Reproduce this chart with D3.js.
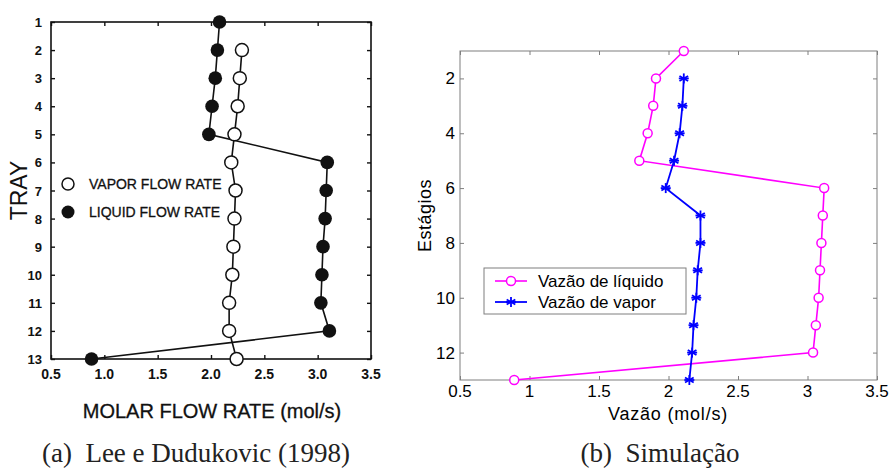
<!DOCTYPE html>
<html>
<head>
<meta charset="utf-8">
<script src="https://cdn.jsdelivr.net/npm/d3@7"></script>
<style>
  body { margin: 0; background: #fff; }
  svg { display: block; }
  text { font-family: "Liberation Sans", Arial, sans-serif; }
  text.serif { font-family: "Liberation Serif", "Times New Roman", serif; }
</style>
</head>
<body>
<div id="chart"></div>
<script>
// data
// (a) Lee e Dudukovic (1998)
var trays = [1, 2, 3, 4, 5, 6, 7, 8, 9, 10, 11, 12, 13];
var leeLiquid = [2.08, 2.06, 2.04, 2.01, 1.98, 3.09, 3.08, 3.07, 3.05, 3.04, 3.03, 3.11, 0.88];
var leeVaporTrays = [2, 3, 4, 5, 6, 7, 8, 9, 10, 11, 12, 13];
var leeVapor = [2.29, 2.27, 2.25, 2.22, 2.19, 2.23, 2.22, 2.21, 2.2, 2.17, 2.17, 2.24];

// (b) Simulação
var stages = [1, 2, 3, 4, 5, 6, 7, 8, 9, 10, 11, 12, 13];
var simLiquid = [2.11, 1.91, 1.89, 1.85, 1.79, 3.12, 3.11, 3.10, 3.09, 3.08, 3.06, 3.04, 0.89];
var simVaporStages = [2, 3, 4, 5, 6, 7, 8, 9, 10, 11, 12, 13];
var simVapor = [2.11, 2.10, 2.08, 2.04, 1.98, 2.23, 2.23, 2.21, 2.20, 2.18, 2.17, 2.15];

var xTicks = [0.5, 1, 1.5, 2, 2.5, 3, 3.5];
var leeXLabels = ["0.5", "1.0", "1.5", "2.0", "2.5", "3.0", "3.5"];
var simYTicks = [2, 4, 6, 8, 10, 12];

var svg = d3.select("#chart").append("svg")
  .attr("width", 892)
  .attr("height", 469);

// ---------- panel (a) ----------
var a = { left: 51, right: 371, top: 22, bottom: 359 };
var xa = d3.scaleLinear().domain([0.5, 3.5]).range([a.left, a.right]);
var ya = d3.scaleLinear().domain([1, 13]).range([a.top, a.bottom]);

var ga = svg.append("g");

ga.append("rect")
  .attr("x", a.left).attr("y", a.top)
  .attr("width", a.right - a.left).attr("height", a.bottom - a.top)
  .attr("fill", "none").attr("stroke", "#111").attr("stroke-width", 1.6);

// inward ticks
ga.append("g").attr("transform", `translate(0,${a.bottom})`)
  .call(d3.axisTop(xa).tickValues(xTicks).tickSize(4).tickFormat(""))
  .call(g => g.select(".domain").remove());
ga.append("g").attr("transform", `translate(0,${a.top})`)
  .call(d3.axisBottom(xa).tickValues(xTicks).tickSize(4).tickFormat(""))
  .call(g => g.select(".domain").remove());
ga.append("g").attr("transform", `translate(${a.left},0)`)
  .call(d3.axisRight(ya).tickValues(trays).tickSize(4).tickFormat(""))
  .call(g => g.select(".domain").remove());
ga.append("g").attr("transform", `translate(${a.right},0)`)
  .call(d3.axisLeft(ya).tickValues(trays).tickSize(4).tickFormat(""))
  .call(g => g.select(".domain").remove());
ga.selectAll(".tick line").attr("stroke", "#111").attr("stroke-width", 1.4);

// tick labels
ga.selectAll(".xlab").data(xTicks).enter().append("text")
  .attr("x", d => xa(d))
  .attr("y", a.bottom + 20)
  .attr("text-anchor", "middle")
  .attr("font-weight", "bold")
  .attr("font-size", 14)
  .attr("fill", "#111")
  .text((d, i) => leeXLabels[i]);

ga.selectAll(".ylab").data(trays).enter().append("text")
  .attr("x", a.left - 9)
  .attr("y", d => ya(d) + 5)
  .attr("text-anchor", "end")
  .attr("font-weight", "bold")
  .attr("font-size", 13)
  .attr("fill", "#111")
  .text(d => d);

ga.append("text")
  .attr("transform", `translate(27,${(a.top + a.bottom) / 2}) rotate(-90)`)
  .attr("text-anchor", "middle")
  .attr("font-size", 23)
  .attr("fill", "#111")
  .text("TRAY");

ga.append("text")
  .attr("x", 212).attr("y", 418)
  .attr("text-anchor", "middle")
  .attr("font-size", 20)
  .attr("fill", "#111")
  .attr("stroke", "#111").attr("stroke-width", 0.3)
  .text("MOLAR FLOW RATE (mol/s)");

// lines
var lineA = d3.line().x(d => xa(d[0])).y(d => ya(d[1]));
var leeLiqPts = leeLiquid.map((v, i) => [v, trays[i]]);
var leeVapPts = leeVapor.map((v, i) => [v, leeVaporTrays[i]]);

ga.append("path").datum(leeVapPts).attr("d", lineA)
  .attr("fill", "none").attr("stroke", "#111").attr("stroke-width", 1.6);
ga.append("path").datum(leeLiqPts).attr("d", lineA)
  .attr("fill", "none").attr("stroke", "#111").attr("stroke-width", 1.6);

ga.selectAll(".vap").data(leeVapPts).enter().append("circle")
  .attr("cx", d => xa(d[0])).attr("cy", d => ya(d[1])).attr("r", 6.5)
  .attr("fill", "#fff").attr("stroke", "#111").attr("stroke-width", 1.5);
ga.selectAll(".liq").data(leeLiqPts).enter().append("circle")
  .attr("cx", d => xa(d[0])).attr("cy", d => ya(d[1])).attr("r", 6.8)
  .attr("fill", "#111");

// legend (a)
ga.append("circle").attr("cx", 68).attr("cy", 184).attr("r", 6)
  .attr("fill", "#fff").attr("stroke", "#111").attr("stroke-width", 1.5);
ga.append("circle").attr("cx", 68).attr("cy", 212).attr("r", 6.5)
  .attr("fill", "#111");
ga.append("text").attr("x", 89).attr("y", 189)
  .attr("font-size", 14).attr("fill", "#111")
  .attr("stroke", "#111").attr("stroke-width", 0.3)
  .text("VAPOR FLOW RATE");
ga.append("text").attr("x", 89).attr("y", 217)
  .attr("font-size", 14).attr("fill", "#111")
  .attr("stroke", "#111").attr("stroke-width", 0.3)
  .text("LIQUID FLOW RATE");

// ---------- panel (b) ----------
var b = { left: 460, right: 877, top: 51, bottom: 380 };
var xb = d3.scaleLinear().domain([0.5, 3.5]).range([b.left, b.right]);
var yb = d3.scaleLinear().domain([1, 13]).range([b.top, b.bottom]);

var gb = svg.append("g");

gb.append("rect")
  .attr("x", b.left).attr("y", b.top)
  .attr("width", b.right - b.left).attr("height", b.bottom - b.top)
  .attr("fill", "none").attr("stroke", "#7f7f7f").attr("stroke-width", 1);

gb.append("g").attr("transform", `translate(0,${b.bottom})`)
  .call(d3.axisTop(xb).tickValues(xTicks).tickSize(4).tickFormat(""))
  .call(g => g.select(".domain").remove());
gb.append("g").attr("transform", `translate(0,${b.top})`)
  .call(d3.axisBottom(xb).tickValues(xTicks).tickSize(4).tickFormat(""))
  .call(g => g.select(".domain").remove());
gb.append("g").attr("transform", `translate(${b.left},0)`)
  .call(d3.axisRight(yb).tickValues(simYTicks).tickSize(4).tickFormat(""))
  .call(g => g.select(".domain").remove());
gb.append("g").attr("transform", `translate(${b.right},0)`)
  .call(d3.axisLeft(yb).tickValues(simYTicks).tickSize(4).tickFormat(""))
  .call(g => g.select(".domain").remove());
gb.selectAll(".tick line").attr("stroke", "#7f7f7f");

gb.selectAll(".xlab").data(xTicks).enter().append("text")
  .attr("x", d => xb(d))
  .attr("y", b.bottom + 17)
  .attr("text-anchor", "middle")
  .attr("font-size", 17)
  .attr("fill", "#000")
  .text(d => d);

gb.selectAll(".ylab").data(simYTicks).enter().append("text")
  .attr("x", b.left - 5)
  .attr("y", d => yb(d) + 6)
  .attr("text-anchor", "end")
  .attr("font-size", 17)
  .attr("fill", "#000")
  .text(d => d);

gb.append("text")
  .attr("x", 668).attr("y", 420)
  .attr("text-anchor", "middle")
  .attr("font-size", 18)
  .attr("letter-spacing", 0.8)
  .attr("fill", "#000")
  .text("Vazão (mol/s)");

gb.append("text")
  .attr("transform", `translate(431,${(b.top + b.bottom) / 2}) rotate(-90)`)
  .attr("text-anchor", "middle")
  .attr("font-size", 18)
  .attr("letter-spacing", 0.5)
  .attr("fill", "#000")
  .text("Estágios");

var lineB = d3.line().x(d => xb(d[0])).y(d => yb(d[1]));
var simLiqPts = simLiquid.map((v, i) => [v, stages[i]]);
var simVapPts = simVapor.map((v, i) => [v, simVaporStages[i]]);

gb.append("path").datum(simLiqPts).attr("d", lineB)
  .attr("fill", "none").attr("stroke", "#ff00ff").attr("stroke-width", 1.6);
gb.append("path").datum(simVapPts).attr("d", lineB)
  .attr("fill", "none").attr("stroke", "#0000ff").attr("stroke-width", 1.8);

function star(g, x, y, col) {
  var s = 5;
  [0, 60, 120].forEach(function(ang) {
    var r = ang * Math.PI / 180;
    g.append("line")
      .attr("x1", x - s * Math.sin(r)).attr("y1", y - s * Math.cos(r))
      .attr("x2", x + s * Math.sin(r)).attr("y2", y + s * Math.cos(r))
      .attr("stroke", col).attr("stroke-width", 1.8);
  });
  g.append("line")
    .attr("x1", x - s).attr("y1", y).attr("x2", x + s).attr("y2", y)
    .attr("stroke", col).attr("stroke-width", 1.8);
}

gb.selectAll(".lq").data(simLiqPts).enter().append("circle")
  .attr("cx", d => xb(d[0])).attr("cy", d => yb(d[1])).attr("r", 4.5)
  .attr("fill", "#fff").attr("stroke", "#ff00ff").attr("stroke-width", 1.5);
simVapPts.forEach(function(d) { star(gb, xb(d[0]), yb(d[1]), "#0000ff"); });

// legend (b)
var lg = gb.append("g");
lg.append("rect").attr("x", 484).attr("y", 268).attr("width", 202).attr("height", 46)
  .attr("fill", "#fff").attr("stroke", "#7f7f7f").attr("stroke-width", 1);
lg.append("line").attr("x1", 495).attr("x2", 527).attr("y1", 281).attr("y2", 281)
  .attr("stroke", "#ff00ff").attr("stroke-width", 1.6);
lg.append("circle").attr("cx", 511).attr("cy", 281).attr("r", 4.5)
  .attr("fill", "#fff").attr("stroke", "#ff00ff").attr("stroke-width", 1.5);
lg.append("line").attr("x1", 495).attr("x2", 527).attr("y1", 302).attr("y2", 302)
  .attr("stroke", "#0000ff").attr("stroke-width", 1.8);
star(lg, 511, 302, "#0000ff");
lg.append("text").attr("x", 538).attr("y", 287)
  .attr("font-size", 17).attr("fill", "#000")
  .text("Vazão de líquido");
lg.append("text").attr("x", 538).attr("y", 308)
  .attr("font-size", 17).attr("fill", "#000")
  .text("Vazão de vapor");

// captions
svg.append("text").attr("class", "serif")
  .attr("x", 196).attr("y", 462)
  .attr("text-anchor", "middle")
  .attr("font-size", 27)
  .attr("fill", "#222")
  .text("(a)\u2002Lee e Dudukovic (1998)");
svg.append("text").attr("class", "serif")
  .attr("x", 660).attr("y", 462)
  .attr("text-anchor", "middle")
  .attr("font-size", 27)
  .attr("fill", "#222")
  .text("(b)\u2002Simulação");
</script>
</body>
</html>
